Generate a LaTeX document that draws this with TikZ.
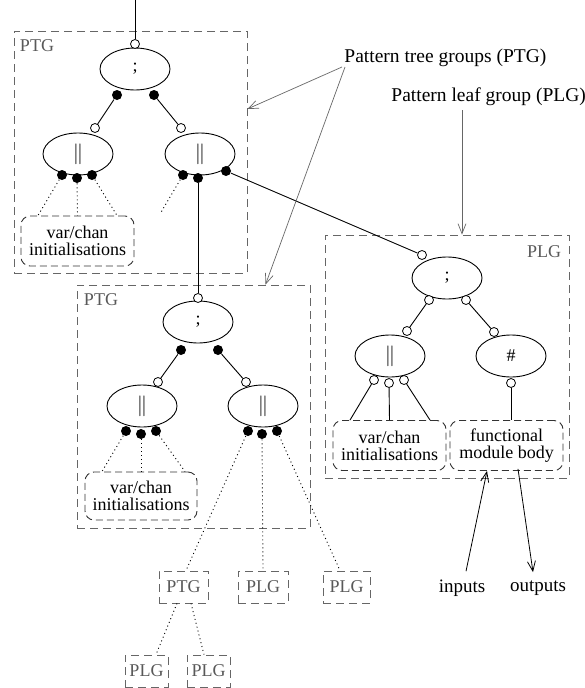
\documentclass[tikz,border=0pt]{standalone}
\usepackage{fontspec}
\setmainfont{Liberation Serif}
\usetikzlibrary{shapes.geometric,arrows.meta}

\begin{document}
\begin{tikzpicture}[x=1pt, y=-1pt, line width=0.9pt,
    font=\fontsize{18}{17}\selectfont,
    op/.style={draw, ellipse, minimum width=70pt, minimum height=42pt, inner sep=0pt},
    bars/.style={op, font=\fontsize{22}{22}\selectfont},
    inport/.style={draw, circle, fill=white, inner sep=0pt, minimum size=9pt, line width=0.8pt},
    outport/.style={circle, fill=black, inner sep=0pt, minimum size=10pt},
    grp/.style={draw=black!60, dash pattern=on 8pt off 5pt, line width=0.8pt, inner sep=0pt},
    grplabel/.style={text=black!65, inner sep=0pt},
    initbox/.style={draw=black!80, dash pattern=on 7pt off 4pt, rounded corners=9pt, align=center,
        inner sep=0pt, minimum width=113pt, minimum height=50pt},
    stub/.style={grp, minimum height=32pt, text=black!65},
    dots/.style={dash pattern=on 1pt off 3pt},
    pointer/.style={draw=black!60, line width=0.7pt, -{Straight Barb[length=10pt, width=8pt]}},
    ioarrow/.style={line width=0.8pt, -{Straight Barb[length=10pt, width=8pt]}},
    note/.style={inner sep=0pt, anchor=south west, font=\fontsize{19.5}{20}\selectfont}]
    \useasboundingbox (0,0) rectangle (585,688);

    % upper pattern tree group
    \node[grp, minimum width=233pt, minimum height=242pt] (ptgA) at (130.5,152) {};
    \node[grplabel] (ptgAlbl) at (37,46) {PTG};
    \coordinate (entry) at (135,0);
    \node[op] (seqA) at (135,69) {;};
    \node[bars] (parA1) at (78,154) {$\|$};
    \node[bars] (parA2) at (200,154) {$\|$};
    \node[inport] (seqAi) at (135,44) {};
    \node[outport] (seqAo1) at (117,95) {};
    \node[outport] (seqAo2) at (154,95) {};
    \node[inport] (parA1i) at (95,128) {};
    \node[inport] (parA2i) at (181,128) {};
    \foreach \i/\x/\y in {1/62/175,2/77/178,3/92/175}
        \node[outport] (parA1o\i) at (\x,\y) {};
    \foreach \i/\x/\y in {1/183/175,2/198/178,3/226/171}
        \node[outport] (parA2o\i) at (\x,\y) {};
    \node[initbox] (initA) at (77.5,241) {var/chan\\initialisations};
    \coordinate (loose) at (160,214);
    \draw (entry) -- (seqAi);
    \draw (seqAo1) -- (parA1i);
    \draw (seqAo2) -- (parA2i);
    \foreach \i/\dx in {1/-39.5,2/0,3/39.5}
        \draw[dots] (parA1o\i) -- ([xshift=\dx pt]initA.north);
    \draw[dots] (parA2o1) -- (loose);

    % lower pattern tree group
    \node[grp, minimum width=233pt, minimum height=243pt] (ptgB) at (193.5,406.5) {};
    \node[grplabel] (ptgBlbl) at (101,300) {PTG};
    \node[op] (seqB) at (198,322) {;};
    \node[bars] (parB1) at (142,406) {$\|$};
    \node[bars] (parB2) at (263,406) {$\|$};
    \node[inport] (seqBi) at (198,298) {};
    \node[outport] (seqBo1) at (181,350) {};
    \node[outport] (seqBo2) at (218,350) {};
    \node[inport] (parB1i) at (158,382) {};
    \node[inport] (parB2i) at (246,382) {};
    \foreach \i/\x/\y in {1/126/431,2/141/434,3/156/431}
        \node[outport] (parB1o\i) at (\x,\y) {};
    \foreach \i/\x/\y in {1/248/431,2/262/434,3/277/431}
        \node[outport] (parB2o\i) at (\x,\y) {};
    \node[initbox, minimum width=112pt, minimum height=48pt] (initB) at (141,496) {var/chan\\initialisations};
    \draw (parA2o2) -- (seqBi);
    \draw (seqBo1) -- (parB1i);
    \draw (seqBo2) -- (parB2i);
    \foreach \i/\dx in {1/-39,2/0,3/44}
        \draw[dots] (parB1o\i) -- ([xshift=\dx pt]initB.north);

    % nested groups below
    \node[stub, minimum width=49pt] (ptgS) at (183.5,587) {PTG};
    \node[stub, minimum width=50pt] (plgS1) at (263,587) {PLG};
    \node[stub, minimum width=47pt] (plgS2) at (346.5,587) {PLG};
    \node[stub, minimum width=43pt] (plgS3) at (146.5,671) {PLG};
    \node[stub, minimum width=43pt] (plgS4) at (208.5,671) {PLG};
    \draw[dots] (parB2o1) -- ([xshift=2.5pt]ptgS.north);
    \draw[dots] (parB2o2) -- (plgS1.north);
    \draw[dots] (parB2o3) -- ([xshift=-6.5pt]plgS2.north);
    \draw[dots] ([xshift=-6.5pt]ptgS.south) -- ([xshift=9.5pt]plgS3.north);
    \draw[dots] ([xshift=7.5pt]ptgS.south) -- ([xshift=-4.5pt]plgS4.north);

    % pattern leaf group
    \node[grp, minimum width=244pt, minimum height=243pt] (plgC) at (447,356.5) {};
    \node[grplabel] (plgClbl) at (544,252) {PLG};
    \node[op] (seqC) at (447,278) {;};
    \node[bars] (parC) at (390,356) {$\|$};
    \node[op] (hashC) at (511,356) {\#};
    \node[inport] (seqCi) at (422,255) {};
    \node[inport] (seqCo1) at (429,300) {};
    \node[inport] (seqCo2) at (466,300) {};
    \node[inport] (parCi) at (407,331) {};
    \node[inport] (hashCi) at (494,332) {};
    \foreach \i/\x/\y in {1/374/380,2/389/383,3/404/380}
        \node[inport] (parCo\i) at (\x,\y) {};
    \node[inport] (hashCo) at (511,383) {};
    \node[initbox] (initC) at (389.5,445.5) {var/chan\\initialisations};
    \node[initbox] (bodyC) at (506.5,445.5) {functional\\module body};
    \draw (parA2o3) -- (seqCi);
    \draw (seqCo1) -- (parCi);
    \draw (seqCo2) -- (hashCi);
    \foreach \i/\dx in {1/-39.5,2/0,3/40.5}
        \draw (parCo\i) -- ([xshift=\dx pt]initC.north);
    \draw (hashCo) -- ([xshift=4.5pt]bodyC.north);

    % inputs and outputs
    \node[inner sep=2pt, font=\fontsize{19}{20}\selectfont] (inputs) at (462,588) {inputs};
    \node[inner sep=2pt, font=\fontsize{19}{20}\selectfont] (outputs) at (538,588) {outputs};
    \draw[ioarrow] ([xshift=4pt, yshift=6pt]inputs.north) -- ([xshift=-19.5pt]bodyC.south);
    \draw[ioarrow] ([xshift=11.5pt, yshift=2pt]bodyC.south) -- ([xshift=-5pt, yshift=6pt]outputs.north);

    % annotations
    \node[note] (ptgNote) at (344,67) {Pattern tree groups (PTG)};
    \node[note] (plgNote) at (391,106) {Pattern leaf group (PLG)};
    \draw[pointer] ([xshift=-2pt]ptgNote.south west) -- ([yshift=43pt]ptgA.east);
    \draw[pointer] ([xshift=1pt]ptgNote.south west) -- ([xshift=72pt]ptgB.north);
    \draw[pointer] ([xshift=71pt, yshift=-4pt]plgNote.south west) -- ([xshift=15pt]plgC.north);
\end{tikzpicture}
\end{document}
